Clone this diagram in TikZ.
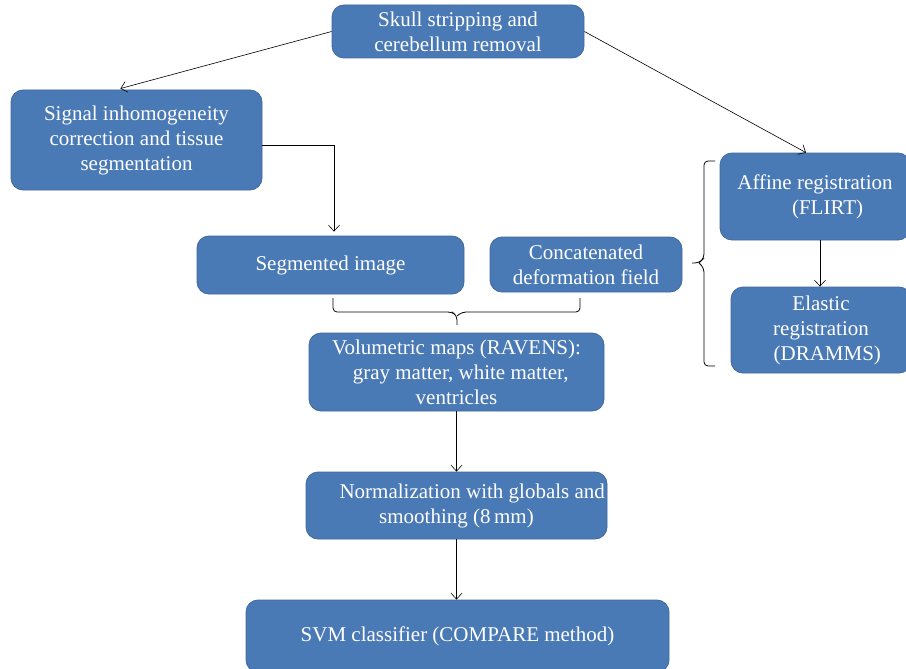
\documentclass[tikz,border=0pt]{standalone}
\usepackage{fontspec}
\setmainfont{Liberation Serif}
\usetikzlibrary{arrows.meta}
\definecolor{boxblue}{HTML}{4A7AB5}
\definecolor{boxline}{HTML}{41689C}

\begin{document}
\begin{tikzpicture}[x=1pt, y=-1pt, align=center,
  stepbox/.style={draw=boxline, fill=boxblue, text=white, rounded corners=12pt,
    line width=0.8pt, inner sep=0pt, font=\fontsize{21}{25}\selectfont},
  arr/.style={-{Straight Barb[length=6pt,width=11pt]}, line width=0.6pt},
  brc/.style={rounded corners=4pt, line width=0.8pt}]
\useasboundingbox (0,0) rectangle (906,669);
\node[stepbox, minimum width=252pt, minimum height=53pt] (skull) at (458,31.5) {Skull stripping and\\cerebellum removal};
\node[stepbox, minimum width=251pt, minimum height=100pt] (signal) at (136.5,140) {Signal inhomogeneity\\correction and tissue\\segmentation};
\node[stepbox, minimum width=190pt, minimum height=87pt] (affine) at (815,196.5) {Affine registration\\\hspace{1.2em}(FLIRT)};
\node[stepbox, minimum width=180pt, minimum height=86pt] (elastic) at (821,330) {Elastic\\registration\\\hspace{0.6em}(DRAMMS)};
\node[stepbox, minimum width=267pt, minimum height=58pt] (seg) at (330.5,265) {Segmented image};
\node[stepbox, minimum width=192pt, minimum height=55pt] (conc) at (586,264.5) {Concatenated\\deformation field};
\node[stepbox, minimum width=295pt, minimum height=78pt] (vol) at (456.5,372) {Volumetric maps (RAVENS):\\\hspace{0.4em}gray matter, white matter,\\ventricles};
\node[stepbox, minimum width=301pt, minimum height=67pt] (norm) at (456.5,505.5) {\hspace{1.5em}Normalization with globals and\\smoothing (8\,mm)};
\node[stepbox, minimum width=423pt, minimum height=72pt] (svm) at (457.5,636) {SVM classifier (COMPARE method)};

% connectors
\draw[arr, shorten >=4pt] (skull.west) -- ([xshift=-20pt]signal.north);
\draw[arr] (skull.east) -- ([xshift=-9pt]affine.north);
\draw[arr, shorten >=4pt] ([yshift=-5pt]signal.east) -| ([xshift=3.5pt]seg.north);
\draw[arr] ([xshift=-1pt]elastic.north |- affine.south) -- ([xshift=-1pt]elastic.north);
\draw[arr] (vol.south) -- (norm.north);
\draw[arr] ([xshift=-1pt]svm.north |- norm.south) -- ([xshift=-1pt]svm.north);

% braces
\coordinate (btip) at (457,325);
\coordinate (rtip) at (692,263);
\draw[brc] (333,298) |- (452,312) -- (457,316) -- (btip);
\draw[brc] (580,298) |- (462,312) -- (457,316);
\draw[brc] (715,161) -| (704,258) -- (699,263) -- (rtip);
\draw[brc] (715,366) -| (704,268) -- (699,263);
\end{tikzpicture}
\end{document}
